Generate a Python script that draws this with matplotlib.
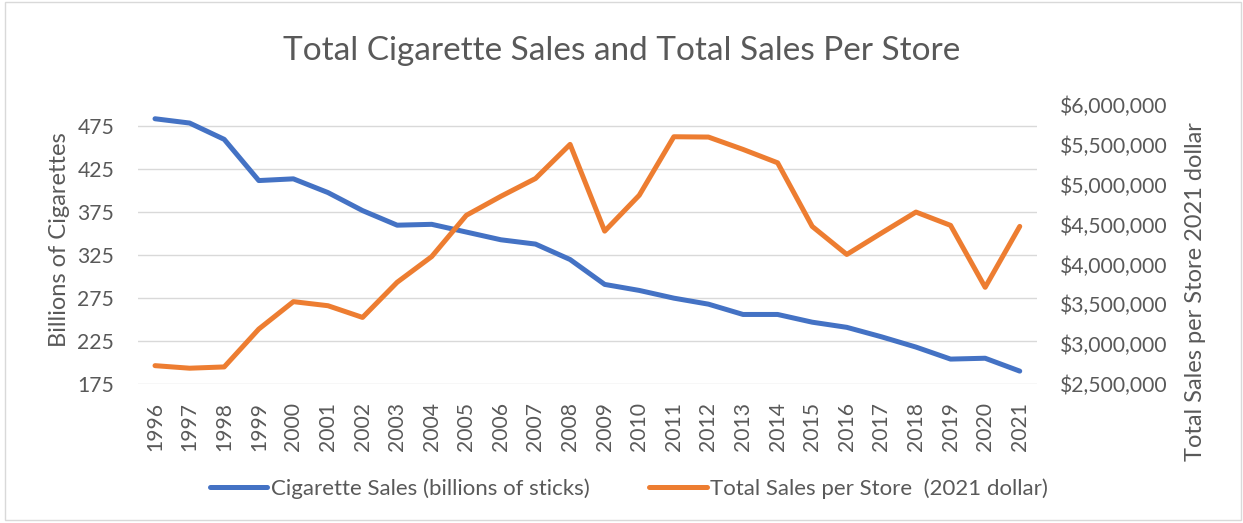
import numpy as np
import matplotlib.pyplot as plt
from matplotlib.ticker import FuncFormatter
from matplotlib.patches import Rectangle

# 数据
years = [str(y) for y in range(1996, 2022)]
cig_sales = [484, 479, 460, 412, 414, 398, 377, 360, 361, 352, 343, 338, 320,
             291, 284, 275, 268, 256, 256, 247, 241, 230, 218, 204, 205, 190]
store_sales = [2730000, 2698000, 2714000, 3189000, 3533000, 3482000, 3335000,
               3776000, 4099000, 4616000, 4855000, 5078000, 5506000, 4418000,
               4868000, 5602000, 5598000, 5443000, 5275000, 4477000, 4125000,
               4393000, 4657000, 4490000, 3713000, 4477000]

txt = '#595959'
blue = '#4472C4'
orange = '#ED7D31'
plt.rcParams['font.family'] = ['Lato', 'DejaVu Sans']

fig = plt.figure(figsize=(12.43, 5.23), dpi=100)
ax = fig.add_axes([0.1108, 0.2658, 0.7235, 0.5334])
ax2 = ax.twinx()

x = np.arange(len(years))
l1, = ax.plot(x, cig_sales, color=blue, lw=3.6, solid_capstyle='round',
              solid_joinstyle='round', label='Cigarette Sales (billions of sticks)')
l2, = ax2.plot(x, store_sales, color=orange, lw=3.6, solid_capstyle='round',
               solid_joinstyle='round', label='Total Sales per Store  (2021 dollar)')

ax.set_xlim(-0.5, len(years) - 0.5)
ax.set_ylim(175, 500)
ax.set_yticks(range(175, 500, 50))
ax2.set_ylim(2500000, 6000000)
ax2.set_yticks(range(2500000, 6000001, 500000))
ax2.yaxis.set_major_formatter(FuncFormatter(lambda v, p: '${:,.0f}'.format(v)))

ax.set_xticks(x)
ax.set_xticklabels(years, rotation=90)
ax.grid(axis='y', color='#D9D9D9', lw=1.0)
ax.set_axisbelow(True)
for a in (ax, ax2):
    for s in a.spines.values():
        s.set_visible(False)
    a.tick_params(length=0, colors=txt, labelsize=15.2)
ax.tick_params(axis='y', pad=17)
ax.tick_params(axis='x', pad=13)
ax2.tick_params(axis='y', pad=16.5)

ax.set_ylabel('Billions of Cigarettes', color=txt, fontsize=17)
ax.yaxis.set_label_coords(-0.0753, 0.516)
ax2.set_ylabel('Total Sales per Store 2021 dollar', color=txt, fontsize=17)
ax2.yaxis.set_label_coords(1.165, 0.33)

fig.text(0.5, 0.9025, 'Total Cigarette Sales and Total Sales Per Store', color=txt,
         fontsize=24, ha='center', va='center')

fig.legend(handles=[l1, l2], loc='center', bbox_to_anchor=(0.506, 0.066),
           ncol=2, frameon=False, fontsize=16, labelcolor=txt,
           handlelength=2.57, handletextpad=0.15, columnspacing=2.7)

fig.patches.append(Rectangle((0.004, 0.006), 0.994, 0.99, transform=fig.transFigure,
                             fill=False, edgecolor='#D9D9D9', lw=1.0))

fig.savefig('out.png', dpi=100)
